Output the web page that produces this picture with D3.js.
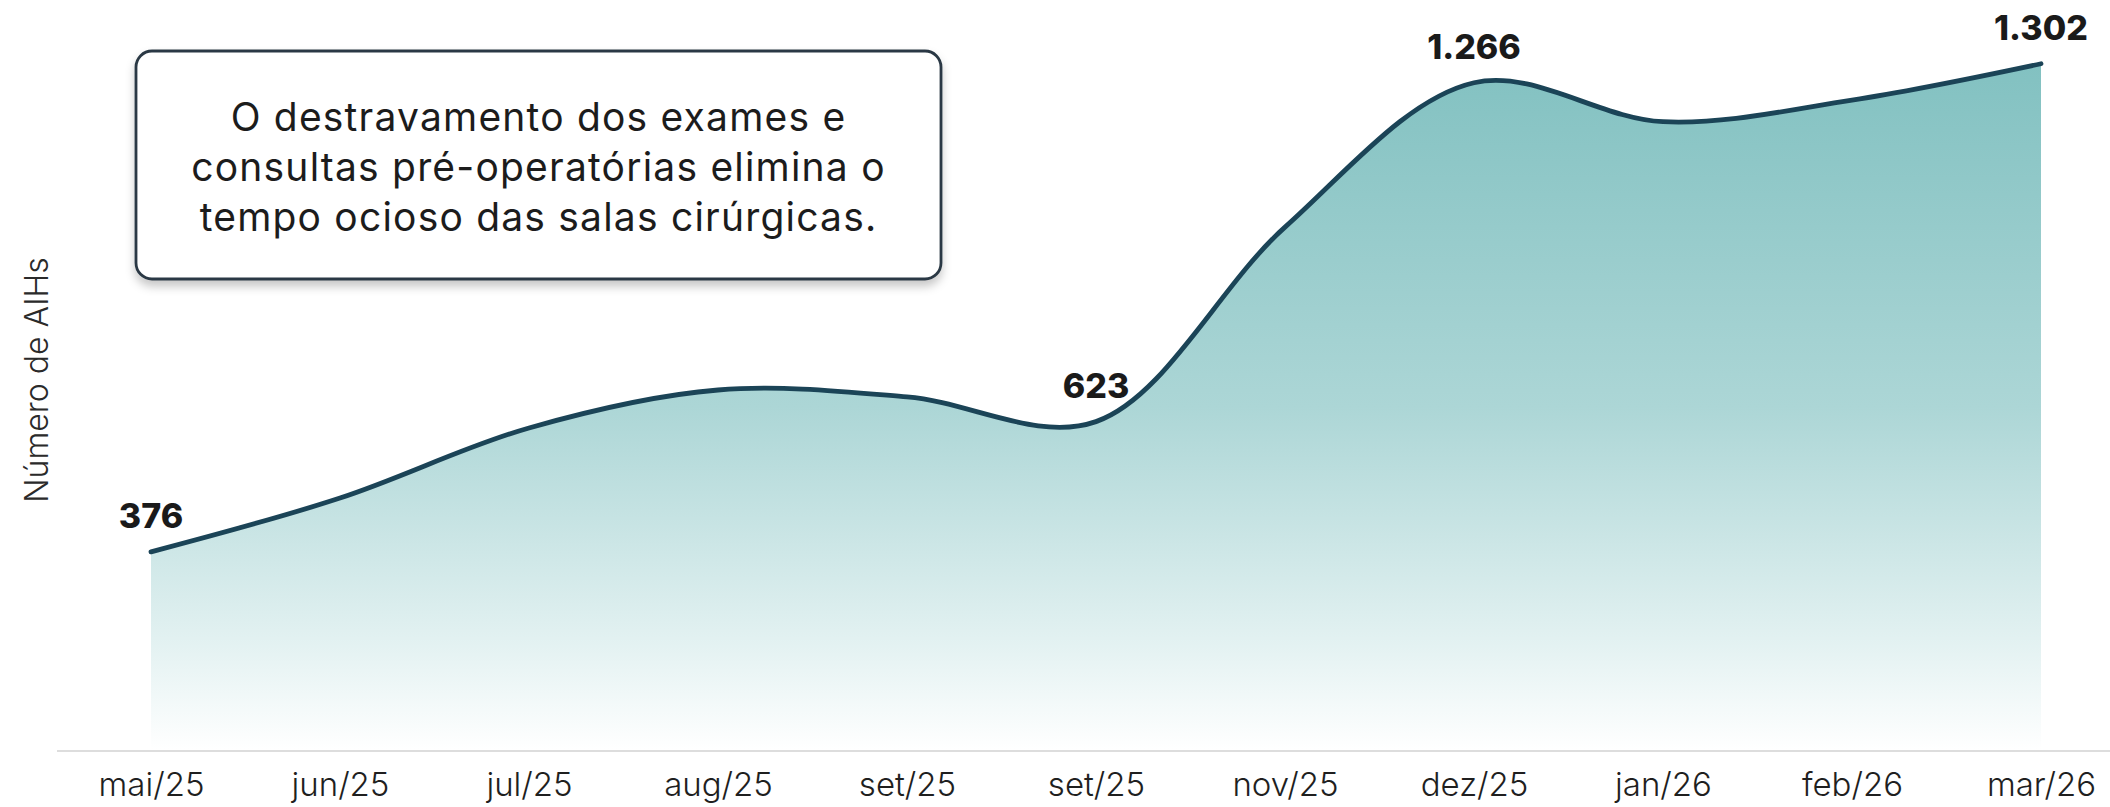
<!DOCTYPE html>
<html>
<head>
<meta charset="utf-8">
<script src="https://cdn.jsdelivr.net/npm/d3@7"></script>
<style>
  html, body { margin: 0; padding: 0; background: #ffffff; }
  svg { display: block; }
  text { font-family: Inter, "Open Sans", sans-serif; }
</style>
</head>
<body>
<div id="chart"></div>
<script>
// ---------- data ----------
const months = ["mai/25", "jun/25", "jul/25", "aug/25", "set/25", "set/25",
                "nov/25", "dez/25", "jan/26", "feb/26", "mar/26"];
const aihs = [376, 478, 611, 683, 670, 623, 992, 1266, 1192, 1233, 1302];
const labelledIdx = [0, 5, 7, 10];
const yTitle = "Número de AIHs";
const noteLines = ["O destravamento dos exames e",
                   "consultas pré-operatórias elimina o",
                   "tempo ocioso das salas cirúrgicas."];

// ---------- setup ----------
const W = 2110, H = 807;
const svg = d3.select("#chart").append("svg")
  .attr("width", W).attr("height", H)
  .attr("viewBox", `0 0 ${W} ${H}`);

const idx = d3.range(months.length);
const x = d3.scalePoint().domain(idx).range([151, 2041]);
const y = d3.scaleLinear().domain([0, 1385]).range([750, 20]);

const ptBR = d3.formatLocale({decimal: ",", thousands: ".", grouping: [3], currency: ["R$", ""]});
const fmt = ptBR.format(",");

const defs = svg.append("defs");
const grad = defs.append("linearGradient")
  .attr("id", "areaGrad")
  .attr("gradientUnits", "userSpaceOnUse")
  .attr("x1", 0).attr("x2", 0)
  .attr("y1", y(1302)).attr("y2", y(0));
grad.append("stop").attr("offset", 0).attr("stop-color", "#82c1c1");
grad.append("stop").attr("offset", 0.5).attr("stop-color", "#acd6d6");
grad.append("stop").attr("offset", 0.85).attr("stop-color", "#e4f2f2");
grad.append("stop").attr("offset", 1).attr("stop-color", "#ffffff");

const shadow = defs.append("filter").attr("id", "boxShadow")
  .attr("x", "-10%").attr("y", "-10%").attr("width", "120%").attr("height", "140%");
shadow.append("feDropShadow")
  .attr("dx", 0).attr("dy", 6).attr("stdDeviation", 5)
  .attr("flood-color", "#000").attr("flood-opacity", 0.22);

// ---------- area + line ----------
const curve = d3.curveCatmullRom.alpha(0.5);
const area = d3.area()
  .x((d, i) => x(i)).y0(y(0)).y1(d => y(d)).curve(curve);
const line = d3.line()
  .x((d, i) => x(i)).y(d => y(d)).curve(curve);

svg.append("path").datum(aihs)
  .attr("d", area).attr("fill", "url(#areaGrad)");

svg.append("path").datum(aihs)
  .attr("d", line).attr("fill", "none")
  .attr("stroke", "#1b4457").attr("stroke-width", 4.8)
  .attr("stroke-linejoin", "round").attr("stroke-linecap", "round");

// ---------- baseline ----------
svg.append("line")
  .attr("x1", 57).attr("x2", W)
  .attr("y1", y(0) + 1).attr("y2", y(0) + 1)
  .attr("stroke", "#dddddd").attr("stroke-width", 2);

// ---------- x axis ----------
const xAxis = d3.axisBottom(x).tickSize(0).tickFormat(i => months[i]);
const gx = svg.append("g").attr("transform", `translate(0,${y(0)})`).call(xAxis);
gx.select(".domain").remove();
gx.selectAll("text")
  .attr("y", 46).attr("dy", 0)
  .attr("font-size", 33)
  .attr("font-weight", 300)
  .attr("font-family", "Inter, 'Open Sans', sans-serif")
  .attr("fill", "#1f1f1f");

// ---------- value labels ----------
svg.append("g").selectAll("text")
  .data(labelledIdx)
  .join("text")
  .attr("x", i => x(i))
  .attr("y", i => y(aihs[i]) - 24)
  .attr("text-anchor", "middle")
  .attr("font-size", 34)
  .attr("font-weight", 800)
  .attr("fill", "#1a1a1a")
  .text(i => fmt(aihs[i]));

// ---------- y title ----------
svg.append("text")
  .attr("transform", `translate(48,380) rotate(-90)`)
  .attr("text-anchor", "middle")
  .attr("font-size", 32)
  .attr("font-weight", 300)
  .attr("fill", "#2a2a2a")
  .text(yTitle);

// ---------- annotation box ----------
const box = {x: 136, y: 51, w: 805, h: 228};
svg.append("rect")
  .attr("x", box.x).attr("y", box.y)
  .attr("width", box.w).attr("height", box.h)
  .attr("rx", 16).attr("ry", 16)
  .attr("fill", "#ffffff")
  .attr("stroke", "#2b3944").attr("stroke-width", 2.8)
  .attr("filter", "url(#boxShadow)");

svg.append("g").selectAll("text")
  .data(noteLines)
  .join("text")
  .attr("x", box.x + box.w / 2)
  .attr("y", (d, i) => 131 + i * 50)
  .attr("text-anchor", "middle")
  .attr("font-size", 39)
  .attr("font-weight", 400)
  .attr("letter-spacing", 1.2)
  .attr("fill", "#1c1c1c")
  .text(d => d);
</script>
</body>
</html>
